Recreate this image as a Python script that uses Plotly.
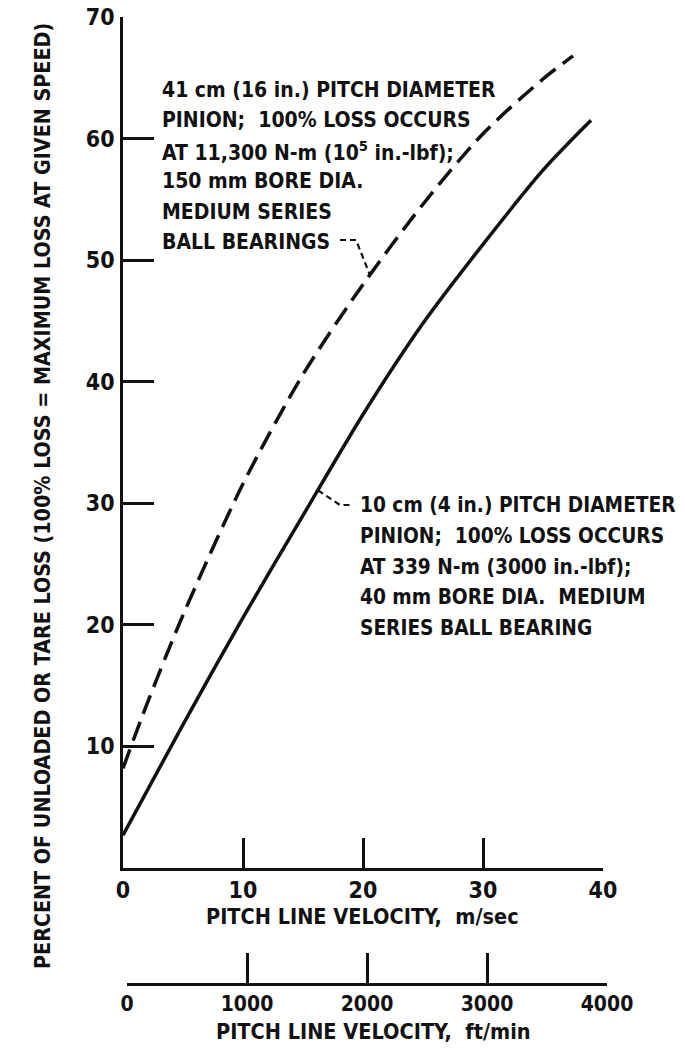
import numpy as np
import plotly.graph_objects as go

W, H = 685, 1050

# ---- data ----
vel_dashed = [0, 2, 5, 10, 15, 20, 25, 30, 35, 37.5]          # m/sec
loss_dashed = [8.2, 13.5, 20.8, 31.6, 40.6, 48.0, 54.6, 60.4, 64.9, 66.8]
vel_solid = [0, 5, 10, 15, 20, 25, 30, 35, 39]
loss_solid = [2.7, 11.8, 20.6, 29.0, 37.3, 44.8, 51.3, 57.4, 61.5]

x_ticks = [0, 10, 20, 30, 40]
y_ticks = [10, 20, 30, 40, 50, 60, 70]
ft_ticks = [0, 1000, 2000, 3000, 4000]

lines_big = ["41 cm (16 in.) PITCH DIAMETER",
             "PINION;  100% LOSS OCCURS",
             "AT 11,300 N-m (10<sup>5</sup> in.-lbf);",
             "150 mm BORE DIA.",
             "MEDIUM SERIES",
             "BALL BEARINGS"]
lines_small = ["10 cm (4 in.) PITCH DIAMETER",
               "PINION;  100% LOSS OCCURS",
               "AT 339 N-m (3000 in.-lbf);",
               "40 mm BORE DIA.  MEDIUM",
               "SERIES BALL BEARING"]
y_title = "PERCENT OF UNLOADED OR TARE LOSS (100% LOSS = MAXIMUM LOSS AT GIVEN SPEED)"
x_title = "PITCH LINE VELOCITY,  m/sec"
x2_title = "PITCH LINE VELOCITY,  ft/min"

# ---- layout geometry (pixels) ----
L, R, T, B = 123, 603, 17, 868
L2, R2, B2 = 127, 607, 983
XR, YR = [0, 40], [0, 70]

def fx(px):  # paper x from pixel
    return px / W

def fy(py):  # paper y from pixel
    return 1 - py / H

def dx(px):  # data x from pixel
    return XR[0] + (px - L) / (R - L) * (XR[1] - XR[0])

def dy(py):  # data y from pixel
    return YR[0] + (B - py) / (B - T) * (YR[1] - YR[0])

FONT = "DejaVu Sans Condensed, Liberation Sans Narrow, Arial Narrow, sans-serif"
INK = "#111111"

fig = go.Figure()
fig.add_trace(go.Scatter(x=vel_dashed, y=loss_dashed, mode="lines",
                         line=dict(color=INK, width=3.5, dash="20px,9px", shape="spline", smoothing=0.8),
                         showlegend=False, hoverinfo="skip"))
fig.add_trace(go.Scatter(x=vel_solid, y=loss_solid, mode="lines",
                         line=dict(color=INK, width=3.5, shape="spline", smoothing=0.8),
                         showlegend=False, hoverinfo="skip"))

# leader lines from labels to the curves (end points taken from curve data)
xd = dx(370)
yd = float(np.interp(xd, vel_dashed, loss_dashed))
fig.add_trace(go.Scatter(x=[dx(340), dx(356), xd], y=[dy(240), dy(240), yd], mode="lines",
                         line=dict(color=INK, width=2.2, dash="6px,4px"),
                         showlegend=False, hoverinfo="skip"))
xs = dx(318)
ys = float(np.interp(xs, vel_solid, loss_solid))
fig.add_trace(go.Scatter(x=[xs, dx(340), dx(350)], y=[ys, dy(505), dy(505)], mode="lines",
                         line=dict(color=INK, width=2.2, dash="6px,4px"),
                         showlegend=False, hoverinfo="skip"))

# invisible trace on the second (ft/min) axis
fig.add_trace(go.Scatter(x=[ft_ticks[0], ft_ticks[-1]], y=[0, 0], xaxis="x2", yaxis="y2",
                         mode="lines", line=dict(width=0), showlegend=False, hoverinfo="skip"))

tickfont = dict(family=FONT, size=23, color=INK, weight="bold")
fig.update_layout(
    width=W, height=H,
    margin=dict(l=0, r=0, t=0, b=0),
    paper_bgcolor="white", plot_bgcolor="white",
    font=dict(family=FONT, color=INK),
    xaxis=dict(domain=[fx(L), fx(R)], range=XR, tickvals=x_ticks, ticks="inside", ticklen=30,
               tickwidth=2.5, tickcolor=INK, showline=True, linewidth=2.5, linecolor=INK,
               showgrid=False, zeroline=False, tickfont=tickfont, ticklabelstandoff=0,
               automargin=False, anchor="y"),
    yaxis=dict(domain=[fy(B), fy(T)], range=YR, tickvals=y_ticks, ticks="inside", ticklen=31,
               tickwidth=2.5, tickcolor=INK, showline=True, linewidth=2.5, linecolor=INK,
               showgrid=False, zeroline=False, tickfont=tickfont, ticklabelstandoff=1,
               automargin=False, anchor="x"),
    xaxis2=dict(domain=[fx(L2), fx(R2)], range=[ft_ticks[0], ft_ticks[-1]], tickvals=ft_ticks,
                ticks="inside", ticklen=30, tickwidth=2.5, tickcolor=INK, showline=True,
                linewidth=2.5, linecolor=INK, showgrid=False, zeroline=False,
                tickfont=dict(family=FONT, size=21, color=INK, weight="bold"), ticklabelstandoff=0,
                automargin=False, anchor="y2"),
    yaxis2=dict(domain=[fy(B2), fy(B2) + 0.001], visible=False, range=[0, 1], anchor="x2"),
)

ann = []
for i, t in enumerate(lines_big):
    ann.append(dict(x=fx(160), y=fy(90 + 30.4 * i), xref="paper", yref="paper", text=t,
                    showarrow=False, xanchor="left", yanchor="middle",
                    font=dict(family=FONT, size=21, color=INK, weight="bold")))
for i, t in enumerate(lines_small):
    ann.append(dict(x=fx(358), y=fy(505 + 30.8 * i), xref="paper", yref="paper", text=t,
                    showarrow=False, xanchor="left", yanchor="middle",
                    font=dict(family=FONT, size=20.7, color=INK, weight="bold")))
ann.append(dict(x=fx(43), y=fy(496), xref="paper", yref="paper", text=y_title, textangle=-90,
                showarrow=False, xanchor="center", yanchor="middle",
                font=dict(family=FONT, size=21.3, color=INK, weight="bold")))
ann.append(dict(x=fx(362), y=fy(916), xref="paper", yref="paper", text=x_title,
                showarrow=False, xanchor="center", yanchor="middle",
                font=dict(family=FONT, size=21.5, color=INK, weight="bold")))
ann.append(dict(x=fx(373), y=fy(1031), xref="paper", yref="paper", text=x2_title,
                showarrow=False, xanchor="center", yanchor="middle",
                font=dict(family=FONT, size=21.5, color=INK, weight="bold")))
fig.update_layout(annotations=ann)

fig.write_html("out.html")
